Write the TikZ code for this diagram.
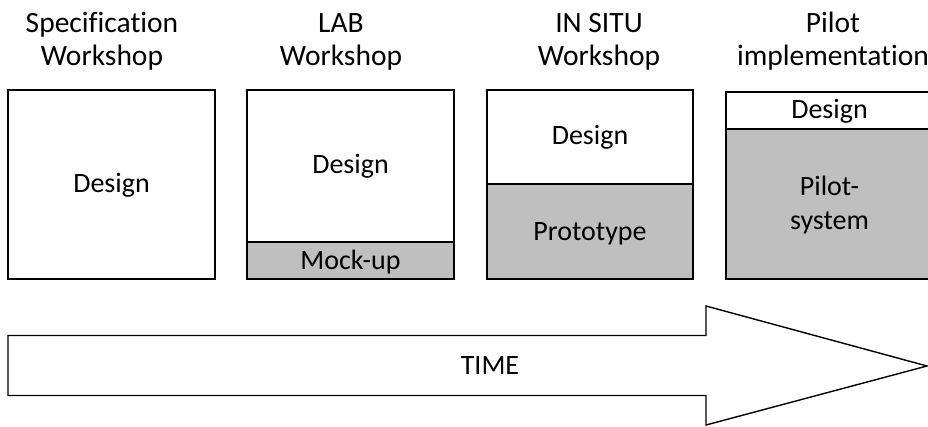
\documentclass[tikz,border=0pt]{standalone}
\usepackage{fontspec}
\setmainfont[RawFeature={-liga;-clig;-dlig}]{Carlito}
\begin{document}
\begin{tikzpicture}[x=1pt,y=-1pt,
  boxline/.style={draw=black,line width=1.7pt},
  graypart/.style={fill=gray75},
  lbl/.style={font=\fontsize{28}{34}\selectfont,inner sep=0pt,align=center},
  hdr/.style={font=\fontsize{29.5}{33}\selectfont,inner sep=0pt,align=center,anchor=base}]
\definecolor{gray75}{HTML}{BFBFBF}
\useasboundingbox (0,0) rectangle (928,426);
\clip (0,0) rectangle (928,426);
% headers
\node[hdr] (h1) at (102,65) {Specification\\Workshop};
\node[hdr] (h2) at (341,65) {LAB\\Workshop};
\node[hdr] (h3) at (599,65) {IN SITU\\Workshop};
\node[hdr] (h4) at (833,65) {Pilot\\implementation};
% box 1
\draw[boxline] (8,90) rectangle (215,279);
\node[lbl] (d1) at (111.5,185) {Design};
% box 2
\fill[graypart] (247,242) rectangle (454,279);
\draw[boxline] (247,90) rectangle (454,279);
\draw[boxline] (247,242) -- (454,242);
\node[lbl] (d2) at (350.5,166) {Design};
\node[lbl] (m2) at (350.5,262) {Mock-up};
% box 3
\fill[graypart] (487,184) rectangle (693,279);
\draw[boxline] (487,90) rectangle (693,279);
\draw[boxline,line width=2.4pt] (487,184) -- (693,184);
\node[lbl] (d3) at (590,137) {Design};
\node[lbl] (p3) at (590,234) {Prototype};
% box 4
\fill[graypart] (726,129) rectangle (933,279);
\draw[boxline] (726,92) rectangle (933,279);
\draw[boxline,line width=2.4pt] (726,129) -- (933,129);
\node[lbl] (d4) at (829.5,111) {Design};
\node[lbl] (p4) at (829.5,205) {Pilot-\\system};
% time arrow
\draw[boxline,line width=1.4pt,line join=miter]
  (8,335.5) -- (706,335.5) -- (706,306) -- (927,366) -- (706,425) -- (706,395.5) -- (8,395.5) -- cycle;
\node[lbl] (t) at (490,366) {TIME};
\end{tikzpicture}
\end{document}
